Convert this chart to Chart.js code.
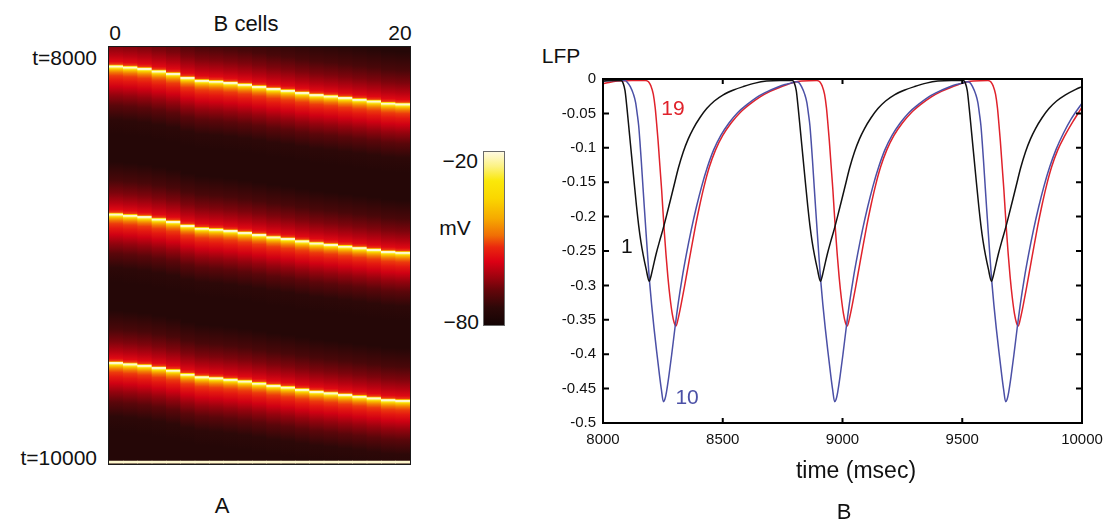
<!DOCTYPE html>
<html>
<head>
<meta charset="utf-8">
<script src="https://cdn.jsdelivr.net/npm/chart.js@4.4.1/dist/chart.umd.min.js"></script>
<style>
  html, body { margin: 0; padding: 0; background: #fff; }
  body { width: 1104px; height: 524px; position: relative; overflow: hidden;
         font-family: 'Liberation Sans', Arial, Helvetica, sans-serif; color: #111; }
  .box { position: absolute; }
  .lbl { position: absolute; white-space: nowrap; line-height: 1; transform: translate(-50%, -50%); }
  .rgt { transform: translate(-100%, -50%); }
</style>
</head>
<body>

<!-- panel A: heatmap -->
<div class="box" style="left:108px; top:46px; border:1px solid #1a1a1a; width:301px; height:417px;">
  <canvas id="heat-chart" width="301" height="417"></canvas>
</div>
<div class="box" style="left:483px; top:151px; border:1px solid #6a6a6a; width:20px; height:173px;">
  <canvas id="cbar-chart" width="20" height="173"></canvas>
</div>

<div class="lbl" style="left:246px; top:24px; font-size:22px;">B cells</div>
<div class="lbl" style="left:115px; top:32px; font-size:21px;">0</div>
<div class="lbl" style="left:400px; top:32px; font-size:21px;">20</div>
<div class="lbl rgt" style="left:97px; top:57px; font-size:21px;">t=8000</div>
<div class="lbl rgt" style="left:97px; top:457px; font-size:21px;">t=10000</div>
<div class="lbl" style="left:222px; top:506px; font-size:22px;">A</div>
<div class="lbl rgt" style="left:478px; top:160px; font-size:21px;">−20</div>
<div class="lbl" style="left:455px; top:227px; font-size:21px;">mV</div>
<div class="lbl rgt" style="left:479px; top:321px; font-size:21px;">−80</div>

<!-- panel B: LFP traces -->
<div class="box" style="left:540px; top:70px; width:564px; height:390px;">
  <canvas id="lfp-chart" width="564" height="390"></canvas>
</div>
<div class="lbl" style="left:561px; top:55px; font-size:21px;">LFP</div>
<div class="lbl" style="left:856px; top:470px; font-size:23px;">time (msec)</div>
<div class="lbl" style="left:844px; top:512px; font-size:22px;">B</div>

<script>
// ---------- Panel A data ----------
const cellLabels = ['0','1','2','3','4','5','6','7','8','9','10','11','12','13','14','15','16','17','18','19','20'];

// time (ms) of the bright spike line in each column, one array per wave
const waveTimes1 = [8090, 8095, 8102, 8114, 8126, 8146, 8159, 8163, 8170, 8178, 8188, 8199, 8207, 8218, 8228, 8234, 8242, 8250, 8258, 8268, 8272];
const waveTimes2 = [8800, 8806, 8813, 8824, 8836, 8855, 8868, 8873, 8880, 8889, 8899, 8910, 8918, 8929, 8939, 8946, 8954, 8962, 8970, 8980, 8984];
const waveTimes3 = [9513, 9519, 9526, 9537, 9549, 9568, 9581, 9586, 9593, 9601, 9611, 9622, 9630, 9641, 9651, 9658, 9666, 9674, 9682, 9691, 9694];

// membrane potential around a spike (ms from the spike line, mV)
const spikeDt = [-250, -160, -100, -50, -20, -7, -2, 0, 6, 10, 15, 22, 32, 48, 70, 100, 140, 190, 260, 330];
const spikeMv = [-76, -71, -66, -61, -57, -52, -35, -21, -21, -28, -37, -43, -48, -52, -55, -59, -64, -69, -74, -76];
const restMv = -76;

// last sampled row (bright strip at the bottom edge)
const lastRowTime = [9986, 9996];
const lastRowMv = -21;

// colour scale
const cbarRange = [-80, -20];
const cmapMv = [-80, -74, -68, -64, -58, -53, -49, -43, -36, -30, -25, -20];
const cmapRgb = [
  [20, 4, 4], [45, 8, 8], [100, 5, 10], [150, 3, 14], [220, 0, 20], [234, 40, 14],
  [240, 110, 5], [246, 170, 0], [250, 215, 0], [250, 232, 10], [252, 242, 130], [255, 250, 225]
];

// ---------- Panel B data ----------
const timeTicks = [8000, 8500, 9000, 9500, 10000];

// LFP of cell 1 (black)
const cell1Lfp = [
  [8000,-0.003],[8040,-0.002],[8076,-0.002],[8084,-0.006],[8092,-0.017],[8100,-0.042],[8110,-0.078],[8120,-0.114],[8130,-0.15],[8140,-0.185],[8149,-0.213],[8158,-0.236],[8168,-0.256],[8180,-0.276],[8193,-0.294],[8200,-0.287],[8210,-0.272],[8222,-0.254],[8236,-0.236],[8250,-0.219],[8265,-0.199],[8280,-0.178],[8295,-0.157],[8315,-0.129],[8335,-0.106],[8356,-0.087],[8377,-0.072],[8405,-0.056],[8433,-0.043],[8465,-0.032],[8502,-0.023],[8545,-0.016],[8586,-0.011],[8635,-0.006],[8683,-0.003],[8740,-0.002],
  [8791,-0.002],[8799,-0.006],[8807,-0.017],[8815,-0.042],[8825,-0.078],[8835,-0.114],[8845,-0.15],[8855,-0.185],[8864,-0.213],[8873,-0.236],[8883,-0.256],[8895,-0.276],[8908,-0.294],[8915,-0.287],[8925,-0.272],[8937,-0.254],[8951,-0.236],[8965,-0.219],[8980,-0.199],[8995,-0.178],[9010,-0.157],[9030,-0.129],[9050,-0.106],[9071,-0.087],[9092,-0.072],[9120,-0.056],[9148,-0.043],[9180,-0.032],[9217,-0.023],[9260,-0.016],[9301,-0.011],[9350,-0.006],[9398,-0.003],[9455,-0.002],
  [9505,-0.002],[9513,-0.006],[9521,-0.017],[9529,-0.042],[9539,-0.078],[9549,-0.114],[9559,-0.15],[9569,-0.185],[9578,-0.213],[9587,-0.236],[9597,-0.256],[9609,-0.276],[9622,-0.294],[9629,-0.287],[9639,-0.272],[9651,-0.254],[9665,-0.236],[9679,-0.219],[9694,-0.199],[9709,-0.178],[9724,-0.157],[9744,-0.129],[9764,-0.106],[9785,-0.087],[9806,-0.072],[9834,-0.056],[9862,-0.043],[9894,-0.032],[9931,-0.023],[9974,-0.015],[10000,-0.011]
];

// LFP of cell 10 (blue)
const cell10Lfp = [
  [8000,-0.003],[8050,-0.002],[8092,-0.002],[8102,-0.005],[8114,-0.011],[8127,-0.022],[8136,-0.034],[8143,-0.051],[8149,-0.068],[8154,-0.09],[8160,-0.12],[8166,-0.152],[8173,-0.189],[8180,-0.225],[8187,-0.26],[8194,-0.293],[8203,-0.328],[8213,-0.362],[8224,-0.396],[8235,-0.428],[8244,-0.452],[8252,-0.469],[8258,-0.466],[8265,-0.455],[8275,-0.432],[8287,-0.4],[8300,-0.363],[8314,-0.326],[8330,-0.29],[8348,-0.255],[8368,-0.22],[8390,-0.186],[8412,-0.156],[8436,-0.128],[8462,-0.103],[8492,-0.082],[8526,-0.064],[8562,-0.049],[8602,-0.037],[8645,-0.026],[8688,-0.018],[8728,-0.012],[8760,-0.008],[8785,-0.006],[8806,-0.004],
  [8817,-0.005],[8829,-0.011],[8842,-0.022],[8851,-0.034],[8858,-0.051],[8864,-0.068],[8869,-0.09],[8875,-0.12],[8881,-0.152],[8888,-0.189],[8895,-0.225],[8902,-0.26],[8909,-0.293],[8918,-0.328],[8928,-0.362],[8939,-0.396],[8950,-0.428],[8959,-0.452],[8967,-0.469],[8973,-0.466],[8980,-0.455],[8990,-0.432],[9002,-0.4],[9015,-0.363],[9029,-0.326],[9045,-0.29],[9063,-0.255],[9083,-0.22],[9105,-0.186],[9127,-0.156],[9151,-0.128],[9177,-0.103],[9207,-0.082],[9241,-0.064],[9277,-0.049],[9317,-0.037],[9360,-0.026],[9403,-0.018],[9443,-0.012],[9475,-0.008],[9500,-0.006],[9521,-0.004],
  [9531,-0.005],[9543,-0.011],[9556,-0.022],[9565,-0.034],[9572,-0.051],[9578,-0.068],[9583,-0.09],[9589,-0.12],[9595,-0.152],[9602,-0.189],[9609,-0.225],[9616,-0.26],[9623,-0.293],[9632,-0.328],[9642,-0.362],[9653,-0.396],[9664,-0.428],[9673,-0.452],[9681,-0.469],[9687,-0.466],[9694,-0.455],[9704,-0.432],[9716,-0.4],[9729,-0.363],[9743,-0.326],[9759,-0.29],[9777,-0.255],[9797,-0.22],[9819,-0.186],[9841,-0.156],[9865,-0.128],[9891,-0.103],[9921,-0.08],[9955,-0.058],[10000,-0.035]
];

// LFP of cell 19 (red)
const cell19Lfp = [
  [8000,-0.007],[8025,-0.005],[8060,-0.003],[8120,-0.002],[8178,-0.002],[8190,-0.004],[8200,-0.01],[8210,-0.022],[8218,-0.042],[8224,-0.065],[8230,-0.09],[8235,-0.114],[8240,-0.138],[8245,-0.162],[8250,-0.19],[8256,-0.222],[8263,-0.255],[8271,-0.288],[8280,-0.318],[8289,-0.341],[8297,-0.354],[8305,-0.359],[8314,-0.348],[8326,-0.328],[8340,-0.302],[8355,-0.273],[8370,-0.244],[8386,-0.214],[8403,-0.185],[8422,-0.156],[8444,-0.128],[8470,-0.103],[8500,-0.082],[8535,-0.064],[8572,-0.049],[8612,-0.037],[8656,-0.026],[8698,-0.018],[8739,-0.012],[8770,-0.008],[8795,-0.005],[8830,-0.003],
  [8893,-0.002],[8905,-0.004],[8915,-0.01],[8925,-0.022],[8933,-0.042],[8939,-0.065],[8945,-0.09],[8950,-0.114],[8955,-0.138],[8960,-0.162],[8965,-0.19],[8971,-0.222],[8978,-0.255],[8986,-0.288],[8995,-0.318],[9004,-0.341],[9012,-0.354],[9020,-0.359],[9029,-0.348],[9041,-0.328],[9055,-0.302],[9070,-0.273],[9085,-0.244],[9101,-0.214],[9118,-0.185],[9137,-0.156],[9159,-0.128],[9185,-0.103],[9215,-0.082],[9250,-0.064],[9287,-0.049],[9327,-0.037],[9371,-0.026],[9413,-0.018],[9454,-0.012],[9485,-0.008],[9510,-0.005],[9545,-0.003],
  [9607,-0.002],[9619,-0.004],[9629,-0.01],[9639,-0.022],[9647,-0.042],[9653,-0.065],[9659,-0.09],[9664,-0.114],[9669,-0.138],[9674,-0.162],[9679,-0.19],[9685,-0.222],[9692,-0.255],[9700,-0.288],[9709,-0.318],[9718,-0.341],[9726,-0.354],[9734,-0.359],[9743,-0.348],[9755,-0.328],[9769,-0.302],[9784,-0.273],[9799,-0.244],[9815,-0.214],[9832,-0.185],[9851,-0.156],[9873,-0.128],[9899,-0.103],[9929,-0.082],[9962,-0.062],[10000,-0.041]
];

// trace labels: text, anchor (time, LFP), colour
const traceLabels = [
  { text: '1',  t: 8100, v: -0.245, color: '#111111' },
  { text: '19', t: 8292, v: -0.044, color: '#e0222b' },
  { text: '10', t: 8351, v: -0.464, color: '#4b50a6' }
];

Chart.defaults.font.family = "'Liberation Sans', Arial, Helvetica, sans-serif";

// map a potential (mV) to the colour scale
function mvColor(mv) {
  if (mv <= cmapMv[0]) return 'rgb(' + cmapRgb[0].join(',') + ')';
  for (let i = 1; i < cmapMv.length; i++) {
    if (mv <= cmapMv[i]) {
      const f = (mv - cmapMv[i - 1]) / (cmapMv[i] - cmapMv[i - 1]);
      const a = cmapRgb[i - 1], b = cmapRgb[i];
      return 'rgb(' + a.map((c, k) => Math.round(c + (b[k] - c) * f)).join(',') + ')';
    }
  }
  return 'rgb(' + cmapRgb[cmapRgb.length - 1].join(',') + ')';
}

// vertical gradient of one spike in one column
function spikeFill(c, times) {
  if (c.type !== 'data') return mvColor(restMv);
  const y = c.chart.scales.y;
  const t = times[c.dataIndex];
  const first = spikeDt[0], last = spikeDt[spikeDt.length - 1];
  const y0 = y.getPixelForValue(t + first);
  const y1 = y.getPixelForValue(t + last);
  if (!isFinite(y0) || !isFinite(y1) || y0 === y1) return mvColor(restMv);
  const g = c.chart.ctx.createLinearGradient(0, y0, 0, y1);
  spikeDt.forEach((dt, i) => g.addColorStop((dt - first) / (last - first), mvColor(spikeMv[i])));
  return g;
}

const restFill = {
  id: 'restFill',
  beforeDatasetsDraw(chart) {
    const { ctx, chartArea: a } = chart;
    ctx.save();
    ctx.fillStyle = mvColor(restMv);
    ctx.fillRect(a.left, a.top, a.right - a.left, a.bottom - a.top);
    ctx.restore();
  }
};

const barDefaults = { grouped: false, categoryPercentage: 1, barPercentage: 1, borderWidth: 0 };

const heatChart = new Chart(document.getElementById('heat-chart'), {
  type: 'bar',
  data: {
    labels: cellLabels,
    datasets: [
      ...[waveTimes1, waveTimes2, waveTimes3].map(times => ({
        ...barDefaults,
        order: 1,
        data: times.map(t => [t + spikeDt[0], t + spikeDt[spikeDt.length - 1]]),
        backgroundColor: c => spikeFill(c, times)
      })),
      {
        ...barDefaults,
        order: 0,
        data: cellLabels.map(() => lastRowTime),
        backgroundColor: mvColor(lastRowMv)
      }
    ]
  },
  options: {
    responsive: false,
    animation: false,
    layout: { padding: 0 },
    plugins: { legend: { display: false }, tooltip: { enabled: false } },
    scales: {
      x: { display: false },
      y: { display: false, min: 8000, max: 10000, reverse: true }
    }
  },
  plugins: [restFill]
});

// colour bar
const cbarChart = new Chart(document.getElementById('cbar-chart'), {
  type: 'bar',
  data: {
    labels: ['mV'],
    datasets: [{
      ...barDefaults,
      data: [cbarRange],
      backgroundColor: c => {
        if (c.type !== 'data') return mvColor(restMv);
        const y = c.chart.scales.y;
        const y0 = y.getPixelForValue(cmapMv[0]);
        const y1 = y.getPixelForValue(cmapMv[cmapMv.length - 1]);
        if (!isFinite(y0) || !isFinite(y1) || y0 === y1) return mvColor(restMv);
        const g = c.chart.ctx.createLinearGradient(0, y0, 0, y1);
        cmapMv.forEach((mv, i) => g.addColorStop((mv - cmapMv[0]) / (cmapMv[cmapMv.length - 1] - cmapMv[0]), mvColor(mv)));
        return g;
      }
    }]
  },
  options: {
    responsive: false,
    animation: false,
    layout: { padding: 0 },
    plugins: { legend: { display: false }, tooltip: { enabled: false } },
    scales: {
      x: { display: false },
      y: { display: false, min: cbarRange[0], max: cbarRange[1] }
    }
  }
});

// frame with inward ticks on all four sides, plus trace labels
const frameTicks = {
  id: 'frameTicks',
  afterDatasetsDraw(chart) {
    const { ctx, chartArea: a, scales: { x, y } } = chart;
    ctx.save();
    ctx.strokeStyle = '#000';
    ctx.lineWidth = 2;
    ctx.strokeRect(a.left, a.top, a.right - a.left, a.bottom - a.top);
    ctx.beginPath();
    x.ticks.forEach(t => {
      const px = x.getPixelForValue(t.value);
      ctx.moveTo(px, a.bottom); ctx.lineTo(px, a.bottom - 5);
      ctx.moveTo(px, a.top); ctx.lineTo(px, a.top + 5);
    });
    y.ticks.forEach(t => {
      const py = y.getPixelForValue(t.value);
      ctx.moveTo(a.left, py); ctx.lineTo(a.left + 6, py);
      ctx.moveTo(a.right, py); ctx.lineTo(a.right - 6, py);
    });
    ctx.stroke();
    ctx.font = "21px 'Liberation Sans', Arial, sans-serif";
    ctx.textAlign = 'center';
    ctx.textBaseline = 'middle';
    traceLabels.forEach(l => {
      ctx.fillStyle = l.color;
      ctx.fillText(l.text, x.getPixelForValue(l.t), y.getPixelForValue(l.v));
    });
    ctx.restore();
  }
};

const toXY = arr => arr.map(p => ({ x: p[0], y: p[1] }));
const traceStyle = { borderWidth: 1.5, pointRadius: 0, fill: false, cubicInterpolationMode: 'monotone' };

const lfpChart = new Chart(document.getElementById('lfp-chart'), {
  type: 'line',
  data: {
    datasets: [
      { ...traceStyle, label: 'cell 1', data: toXY(cell1Lfp), borderColor: '#111111' },
      { ...traceStyle, label: 'cell 10', data: toXY(cell10Lfp), borderColor: '#4b50a6' },
      { ...traceStyle, label: 'cell 19', data: toXY(cell19Lfp), borderColor: '#e0222b' }
    ]
  },
  options: {
    responsive: false,
    animation: false,
    layout: { padding: { top: 9, right: 22, left: 0, bottom: 0 } },
    plugins: { legend: { display: false }, tooltip: { enabled: false } },
    scales: {
      x: {
        type: 'linear', min: 8000, max: 10000,
        afterBuildTicks: s => { s.ticks = timeTicks.map(v => ({ value: v })); },
        afterFit: s => { s.height = 37; s.paddingLeft = 0; s.paddingRight = 0; },
        grid: { display: false, drawTicks: false },
        border: { display: false },
        ticks: { padding: 8, color: '#111', font: { size: 15 }, maxRotation: 0, callback: v => String(v) }
      },
      y: {
        min: -0.5, max: 0,
        afterFit: s => { s.width = 63; s.paddingTop = 0; s.paddingBottom = 0; },
        grid: { display: false, drawTicks: false },
        border: { display: false },
        ticks: { stepSize: 0.05, padding: 7, color: '#111', font: { size: 15 }, callback: v => String(+v.toFixed(2)) }
      }
    }
  },
  plugins: [frameTicks]
});
</script>
</body>
</html>
